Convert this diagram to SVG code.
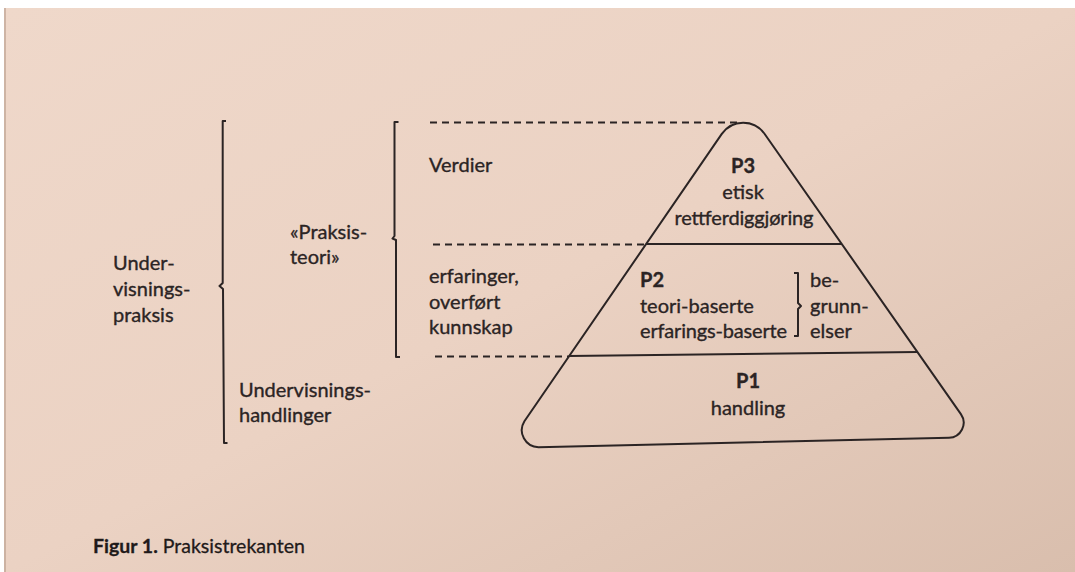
<svg xmlns="http://www.w3.org/2000/svg" width="1075" height="572" viewBox="0 0 1075 572">
  <defs>
    <linearGradient id="page" x1="0" y1="0" x2="1" y2="1">
      <stop offset="0" stop-color="#efd8ca"/>
      <stop offset="0.5" stop-color="#ebd2c3"/>
      <stop offset="1" stop-color="#d9bead"/>
    </linearGradient>
    <style>
      .t { font-family: Lato, "Open Sans", sans-serif; font-size: 20px; fill: #2b2424; stroke: #2b2424; stroke-width: 0.35px; }
      .b { font-weight: bold; }
      .c { text-anchor: middle; }
      .ln { fill: none; stroke: #2b2424; stroke-width: 2; stroke-linejoin: round; stroke-linecap: butt; }
      .ds { fill: none; stroke: #2b2424; stroke-width: 2; stroke-dasharray: 7 5; }
      .cap { font-family: Lato, "Open Sans", sans-serif; font-size: 19.5px; fill: #1f1a1a; stroke: #1f1a1a; stroke-width: 0.3px; }
    </style>
  </defs>

  <rect x="0" y="0" width="1075" height="572" fill="#ffffff"/>
  <rect x="4" y="8" width="1071" height="564" fill="url(#page)"/>
  <rect x="4" y="8" width="2" height="564" fill="#b89c8c" opacity="0.6"/>

  <g id="connectors">
    <line class="ds" x1="430" y1="122.5" x2="737" y2="122.5"/>
    <line class="ds" x1="433" y1="244.5" x2="646" y2="244.5"/>
    <line class="ds" x1="435" y1="356.5" x2="569" y2="356.5"/>
  </g>

  <g id="bracket-outer">
    <path class="ln" d="M226 121 L222.7 121 L222.7 283 L219.5 286 L223 289 L224 443 L227.5 443"/>
  </g>
  <g id="bracket-inner">
    <path class="ln" d="M398.5 122 L394.5 122 L394.5 236 L392.5 238.5 L396 240 L396 357 L400 357"/>
  </g>

  <g id="label-undervisningspraksis">
    <text class="t" x="113" y="270">Under-</text>
    <text class="t" x="113" y="296">visnings-</text>
    <text class="t" x="113" y="322">praksis</text>
  </g>
  <g id="label-praksisteori">
    <text class="t" x="290" y="239">«Praksis-</text>
    <text class="t" x="290" y="264">teori»</text>
  </g>
  <g id="label-undervisningshandlinger">
    <text class="t" x="239" y="397">Undervisnings-</text>
    <text class="t" x="239" y="422">handlinger</text>
  </g>
  <g id="label-verdier">
    <text class="t" x="429" y="172">Verdier</text>
  </g>
  <g id="label-erfaringer">
    <text class="t" x="429" y="283">erfaringer,</text>
    <text class="t" x="429" y="309">overført</text>
    <text class="t" x="429" y="334">kunnskap</text>
  </g>

  <g id="pyramid">
    <path class="ln" d="M524.4 421.2 L721.8 133.9 A26 26 0 0 1 764.5 133.7 L960.9 414.1 A15 15 0 0 1 949 437.7 L538.5 447.2 A17 17 0 0 1 524.4 421.2 Z"/>
    <line class="ln" x1="646" y1="244" x2="842" y2="244"/>
    <line class="ln" x1="569" y1="356" x2="917.5" y2="352"/>
  </g>

  <g id="p3">
    <text class="t b c" x="743" y="173">P3</text>
    <text class="t c" x="743" y="199">etisk</text>
    <text class="t c" x="744" y="225" textLength="139">rettferdiggjøring</text>
  </g>
  <g id="p2">
    <text class="t b" x="640" y="287">P2</text>
    <text class="t" x="640" y="313">teori-baserte</text>
    <text class="t" x="640" y="338" textLength="147">erfarings-baserte</text>
    <path class="ln" d="M794 273 L798 273 L798 303 L801 306 L798 309 L798 336 L794 336"/>
    <text class="t" x="810" y="287">be-</text>
    <text class="t" x="810" y="313">grunn-</text>
    <text class="t" x="810" y="338">elser</text>
  </g>
  <g id="p1">
    <text class="t b c" x="748" y="388">P1</text>
    <text class="t c" x="748" y="415">handling</text>
  </g>

  <g id="caption">
    <text class="cap" x="93" y="553"><tspan font-weight="bold">Figur 1.</tspan> Praksistrekanten</text>
  </g>
</svg>
